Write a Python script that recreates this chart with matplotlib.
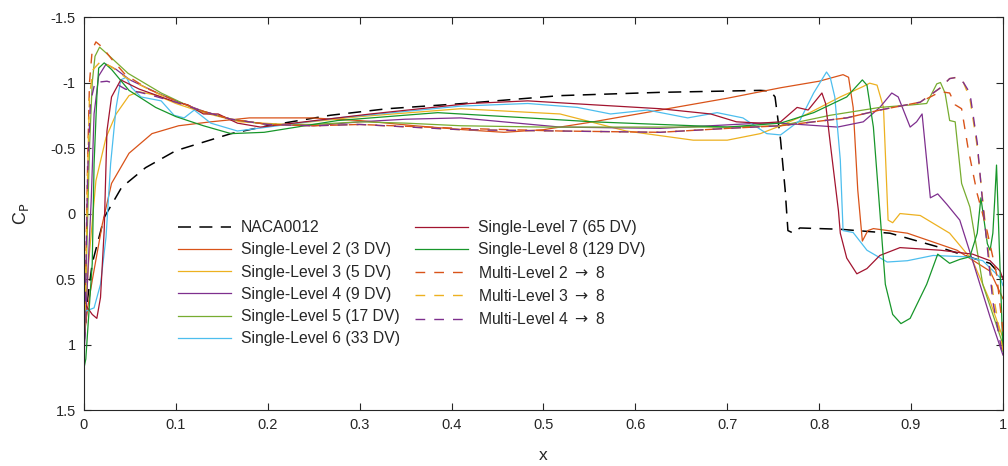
import matplotlib
matplotlib.use("Agg")
import matplotlib.pyplot as plt


# baseline airfoil
naca_x = [0.000, 0.004, 0.009, 0.022, 0.041, 0.067, 0.100, 0.160, 0.200, 0.268,
          0.330, 0.413, 0.518, 0.627, 0.700, 0.736, 0.747, 0.752, 0.758, 0.763,
          0.766, 0.772, 0.779, 0.823, 0.877, 0.932, 0.967, 0.986, 1.000]
naca_cp = [1.00, 0.65, 0.38, 0.03, -0.20, -0.35, -0.48, -0.61, -0.67, -0.75,
           -0.80, -0.84, -0.90, -0.925, -0.935, -0.94, -0.935, -0.89, -0.56, -0.18,
           0.13, 0.15, 0.11, 0.12, 0.15, 0.26, 0.34, 0.38, 0.49]

# single-level 2 (3 DV)
sl2_x = [0.000, 0.004, 0.009, 0.020, 0.030, 0.049, 0.074, 0.103, 0.138, 0.180,
         0.247, 0.300, 0.360, 0.413, 0.457, 0.500, 0.554, 0.627, 0.700, 0.758,
         0.800, 0.826, 0.832, 0.837, 0.842, 0.847, 0.853, 0.859, 0.896, 0.950,
         0.986, 1.000]
sl2_cp = [0.95, 0.72, 0.51, 0.08, -0.23, -0.46, -0.61, -0.67, -0.70, -0.73,
          -0.73, -0.71, -0.67, -0.64, -0.62, -0.64, -0.70, -0.79, -0.88, -0.96,
          -1.01, -1.06, -1.04, -0.81, -0.18, 0.21, 0.13, 0.115, 0.15, 0.28,
          0.44, 0.65]

# single-level 3 (5 DV)
sl3_x = [0.000, 0.005, 0.013, 0.024, 0.035, 0.049, 0.060, 0.080, 0.100, 0.130,
         0.170, 0.220, 0.300, 0.410, 0.518, 0.590, 0.663, 0.700, 0.736, 0.758,
         0.787, 0.823, 0.848, 0.855, 0.863, 0.870, 0.875, 0.880, 0.888, 0.910,
         0.942, 0.967, 0.986, 1.000]
sl3_cp = [1.00, 0.38, -0.25, -0.58, -0.76, -0.90, -0.93, -0.90, -0.84, -0.77,
          -0.70, -0.68, -0.74, -0.80, -0.76, -0.63, -0.56, -0.56, -0.61, -0.67,
          -0.76, -0.89, -0.97, -0.995, -0.98, -0.81, 0.05, 0.07, 0.00, 0.015,
          0.15, 0.36, 0.67, 0.95]

# single-level 4 (9 DV)
sl4_x = [0.000, 0.003, 0.008, 0.011, 0.016, 0.024, 0.035, 0.050, 0.080, 0.100,
         0.130, 0.160, 0.200, 0.250, 0.300, 0.350, 0.410, 0.518, 0.627, 0.736,
         0.758, 0.820, 0.848, 0.866, 0.879, 0.886, 0.899, 0.906, 0.912, 0.921,
         0.929, 0.939, 0.953, 0.967, 0.986, 1.000]
sl4_cp = [1.10, 0.64, -0.12, -0.76, -1.05, -1.14, -1.10, -1.02, -0.92, -0.86,
          -0.78, -0.72, -0.68, -0.67, -0.70, -0.72, -0.73, -0.66, -0.65, -0.69,
          -0.69, -0.66, -0.70, -0.81, -0.92, -0.89, -0.66, -0.70, -0.76, -0.12,
          -0.15, -0.07, 0.05, 0.36, 0.79, 1.08]

# single-level 5 (17 DV)
sl5_x = [0.000, 0.003, 0.006, 0.009, 0.012, 0.017, 0.025, 0.048, 0.084, 0.120,
         0.160, 0.200, 0.250, 0.300, 0.350, 0.410, 0.500, 0.600, 0.700, 0.758,
         0.812, 0.866, 0.902, 0.917, 0.928, 0.932, 0.937, 0.942, 0.948, 0.955,
         0.964, 0.978, 1.000]
sl5_cp = [1.00, 0.30, -0.50, -1.00, -1.20, -1.27, -1.22, -1.07, -0.92, -0.80,
          -0.72, -0.68, -0.68, -0.70, -0.69, -0.67, -0.66, -0.66, -0.66, -0.67,
          -0.75, -0.81, -0.83, -0.84, -0.99, -1.00, -0.92, -0.71, -0.70, -0.23,
          -0.05, 0.54, 1.00]

# single-level 6 (33 DV)
sl6_x = [0.000, 0.011, 0.018, 0.024, 0.029, 0.035, 0.040, 0.046, 0.052, 0.062,
         0.084, 0.098, 0.109, 0.120, 0.138, 0.167, 0.200, 0.276, 0.410, 0.483,
         0.537, 0.573, 0.613, 0.657, 0.689, 0.717, 0.743, 0.758, 0.779, 0.794,
         0.808, 0.812, 0.817, 0.823, 0.826, 0.837, 0.852, 0.874, 0.896, 0.924,
         0.960, 0.978, 0.997, 1.000]
sl6_cp = [0.75, 0.72, 0.54, 0.18, -0.38, -0.81, -1.02, -1.04, -0.96, -0.89,
          -0.86, -0.75, -0.73, -0.79, -0.69, -0.63, -0.66, -0.73, -0.82, -0.84,
          -0.81, -0.76, -0.79, -0.73, -0.77, -0.73, -0.61, -0.60, -0.71, -0.92,
          -1.08, -1.04, -0.89, -0.41, 0.13, 0.145, 0.28, 0.37, 0.36, 0.32,
          0.33, 0.36, 0.49, 0.55]

# single-level 7 (65 DV)
sl7_x = [0.000, 0.004, 0.009, 0.014, 0.018, 0.022, 0.025, 0.030, 0.040, 0.060,
         0.084, 0.100, 0.113, 0.130, 0.146, 0.167, 0.192, 0.240, 0.312, 0.420,
         0.483, 0.554, 0.627, 0.682, 0.710, 0.736, 0.758, 0.776, 0.788, 0.803,
         0.807, 0.812, 0.821, 0.823, 0.830, 0.841, 0.852, 0.866, 0.888, 0.932,
         0.967, 0.986, 0.997, 1.000]
sl7_cp = [0.68, 0.72, 0.77, 0.80, 0.64, 0.13, -0.63, -0.89, -1.02, -0.95,
          -0.89, -0.85, -0.83, -0.76, -0.76, -0.69, -0.66, -0.70, -0.76, -0.84,
          -0.86, -0.83, -0.80, -0.76, -0.70, -0.69, -0.70, -0.81, -0.79, -0.92,
          -0.84, -0.54, -0.02, 0.15, 0.34, 0.46, 0.42, 0.32, 0.26, 0.28,
          0.31, 0.36, 0.44, 0.50]

# single-level 8 (129 DV)
sl8_x = [0.000, 0.002, 0.004, 0.009, 0.011, 0.014, 0.016, 0.022, 0.030, 0.049,
         0.078, 0.100, 0.130, 0.160, 0.196, 0.276, 0.385, 0.483, 0.554, 0.627,
         0.700, 0.758, 0.794, 0.830, 0.847, 0.852, 0.859, 0.866, 0.872, 0.880,
         0.889, 0.899, 0.917, 0.929, 0.942, 0.953, 0.964, 0.972, 0.976, 0.983,
         0.986, 0.989, 0.991, 0.993, 0.997, 1.000]
sl8_cp = [1.18, 1.11, 0.90, 0.38, -0.38, -0.89, -1.11, -1.15, -1.10, -0.94,
          -0.81, -0.74, -0.67, -0.61, -0.62, -0.71, -0.77, -0.73, -0.70, -0.68,
          -0.66, -0.69, -0.77, -0.89, -1.02, -0.98, -0.66, -0.02, 0.54, 0.77,
          0.84, 0.80, 0.54, 0.31, 0.38, 0.35, 0.33, 0.15, -0.12, 0.23,
          0.28, 0.15, -0.10, -0.37, 0.46, 1.05]

# multi-level 2 -> 8
ml2_x = [0.000, 0.002, 0.004, 0.006, 0.009, 0.013, 0.020, 0.030, 0.045, 0.070,
         0.100, 0.130, 0.160, 0.200, 0.250, 0.300, 0.410, 0.518, 0.627, 0.700,
         0.758, 0.830, 0.866, 0.910, 0.932, 0.942, 0.948, 0.955, 0.962, 0.972,
         0.982, 0.993, 1.000]
ml2_cp = [1.00, 0.40, -0.40, -1.00, -1.25, -1.31, -1.27, -1.18, -1.06, -0.95,
          -0.86, -0.78, -0.72, -0.68, -0.67, -0.68, -0.65, -0.63, -0.62, -0.65,
          -0.67, -0.73, -0.79, -0.85, -0.93, -0.92, -0.83, -0.80, -0.50, -0.15,
          0.11, 0.46, 0.90]

# multi-level 3 -> 8
ml3_x = [0.000, 0.002, 0.004, 0.006, 0.010, 0.018, 0.030, 0.045, 0.070, 0.100,
         0.130, 0.160, 0.200, 0.250, 0.300, 0.410, 0.518, 0.627, 0.700, 0.758,
         0.830, 0.866, 0.910, 0.932, 0.942, 0.950, 0.957, 0.964, 0.972, 0.978,
         0.989, 1.000]
ml3_cp = [1.05, 0.50, -0.30, -0.90, -1.10, -1.16, -1.12, -1.04, -0.95, -0.85,
          -0.78, -0.72, -0.68, -0.67, -0.68, -0.64, -0.63, -0.62, -0.65, -0.67,
          -0.73, -0.79, -0.85, -0.96, -1.03, -1.04, -1.00, -0.88, -0.51, -0.10,
          0.60, 1.05]

# multi-level 4 -> 8
ml4_x = [0.000, 0.002, 0.004, 0.007, 0.012, 0.025, 0.035, 0.045, 0.070, 0.100,
         0.130, 0.160, 0.200, 0.250, 0.300, 0.410, 0.518, 0.627, 0.700, 0.758,
         0.830, 0.866, 0.910, 0.932, 0.942, 0.950, 0.957, 0.964, 0.972, 0.977,
         0.989, 1.000]
ml4_cp = [1.10, 0.50, -0.30, -0.85, -1.00, -1.01, -0.99, -0.95, -0.91, -0.85,
          -0.78, -0.72, -0.68, -0.67, -0.68, -0.64, -0.63, -0.62, -0.65, -0.67,
          -0.73, -0.79, -0.85, -0.96, -1.03, -1.04, -1.00, -0.92, -0.54, -0.15,
          0.67, 1.10]

single_labels = [
    "Single-Level 2 (3 DV)",
    "Single-Level 3 (5 DV)",
    "Single-Level 4 (9 DV)",
    "Single-Level 5 (17 DV)",
    "Single-Level 6 (33 DV)",
    "Single-Level 7 (65 DV)",
    "Single-Level 8 (129 DV)",
]
multi_labels = [
    r"Multi-Level 2 $\rightarrow$ 8",
    r"Multi-Level 3 $\rightarrow$ 8",
    r"Multi-Level 4 $\rightarrow$ 8",
]

x_ticks = [0, 0.1, 0.2, 0.3, 0.4, 0.5, 0.6, 0.7, 0.8, 0.9, 1]
x_tick_labels = ["0", "0.1", "0.2", "0.3", "0.4", "0.5", "0.6", "0.7", "0.8", "0.9", "1"]
y_ticks = [-1.5, -1, -0.5, 0, 0.5, 1, 1.5]
y_tick_labels = ["-1.5", "-1", "-0.5", "0", "0.5", "1", "1.5"]


def make_plot():
    plt.rcParams["font.family"] = ["Liberation Sans", "DejaVu Sans"]
    plt.rcParams["font.size"] = 10.5

    fig = plt.figure(figsize=(10.08, 4.66), dpi=100)
    ax = fig.add_axes([0.0833, 0.12, 0.9117, 0.8435])

    ink = "#262626"

    ax.plot(naca_x, naca_cp, color="black", lw=1.1,
            dashes=(8.5, 5.5), label="NACA0012")

    single_data = [
        (sl2_x, sl2_cp, "#D95319"),
        (sl3_x, sl3_cp, "#EDB120"),
        (sl4_x, sl4_cp, "#7E2F8E"),
        (sl5_x, sl5_cp, "#77AC30"),
        (sl6_x, sl6_cp, "#4DBEEE"),
        (sl7_x, sl7_cp, "#A2142F"),
        (sl8_x, sl8_cp, "#17962A"),
    ]
    for (xs, cps, col), lab in zip(single_data, single_labels):
        ax.plot(xs, cps, color=col, lw=0.9, label=lab)

    multi_data = [
        (ml2_x, ml2_cp, "#D95319"),
        (ml3_x, ml3_cp, "#EDB120"),
        (ml4_x, ml4_cp, "#7E2F8E"),
    ]
    for (xs, cps, col), lab in zip(multi_data, multi_labels):
        ax.plot(xs, cps, color=col, lw=1.0, dashes=(7, 6.5), label=lab)

    ax.set_xlim(0, 1)
    ax.set_ylim(1.5, -1.5)

    ax.set_xticks(x_ticks)
    ax.set_xticklabels(x_tick_labels)
    ax.set_yticks(y_ticks)
    ax.set_yticklabels(y_tick_labels)

    ax.tick_params(direction="in", top=True, right=True, length=5,
                   width=0.8, colors=ink, labelsize=10.5, pad=6)
    for side in ax.spines.values():
        side.set_color(ink)
        side.set_linewidth(0.8)

    ax.set_xlabel("x", fontsize=12.5, color=ink, labelpad=11)
    ax.set_ylabel(r"C$_\mathrm{P}$", fontsize=13, color=ink, labelpad=14)

    ax.legend(ncol=2, frameon=False, loc="upper left",
              bbox_to_anchor=(0.0936, 0.503), borderpad=0,
              handlelength=3.38, handletextpad=0.64, columnspacing=0.95,
              labelspacing=0.46, fontsize=11.3, labelcolor=ink)

    fig.savefig("out.png", dpi=100)
    plt.close(fig)


def main():
    make_plot()


if __name__ == "__main__":
    main()
